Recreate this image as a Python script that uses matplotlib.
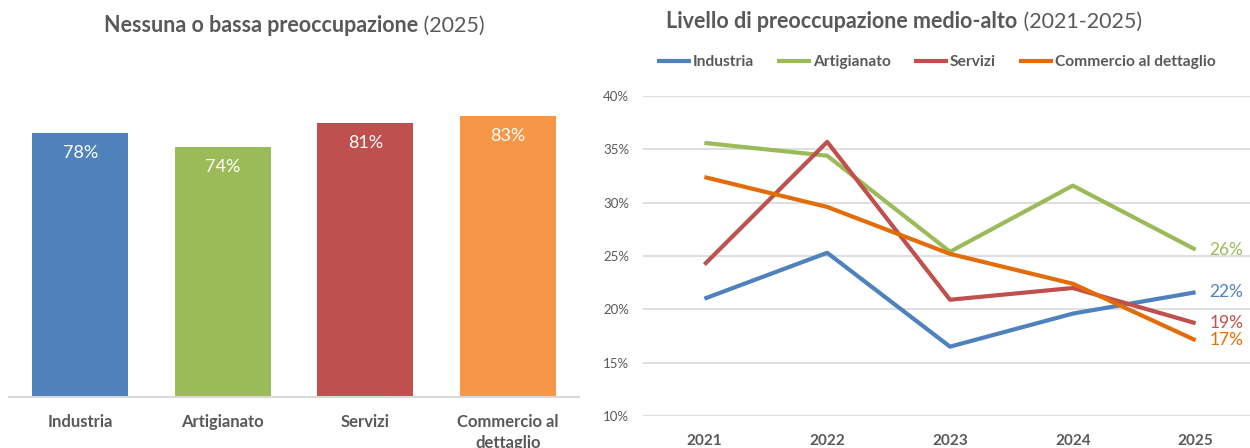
import numpy as np
import matplotlib.pyplot as plt
from matplotlib.ticker import FuncFormatter

plt.rcParams['font.family'] = ['Lato', 'DejaVu Sans']

# left chart data
cats = ['Industria', 'Artigianato', 'Servizi', 'Commercio al\ndettaglio']
low_2025 = [78, 74, 81, 83]
bar_colors = ['#4f81bd', '#9bbb59', '#c0504d', '#f79646']

# right chart data
years = ['2021', '2022', '2023', '2024', '2025']
industria = [21.0, 25.3, 16.5, 19.6, 21.6]
artigianato = [35.6, 34.4, 25.4, 31.6, 25.6]
servizi = [24.2, 35.7, 20.9, 22.0, 18.7]
commercio = [32.4, 29.6, 25.2, 22.4, 17.1]
series = [('Industria', industria, '#4f81bd'),
          ('Artigianato', artigianato, '#9bbb59'),
          ('Servizi', servizi, '#c0504d'),
          ('Commercio al dettaglio', commercio, '#e36c09')]
end_labels = ['22%', '26%', '19%', '17%']

txt = '#595959'
grid = '#d9d9d9'

fig = plt.figure(figsize=(12.5, 4.48), dpi=100)


def mixed_title(fig, xc, y, bold, normal, size):
    r = fig.canvas.get_renderer()
    t1 = fig.text(0, y, bold, fontsize=size, fontweight='bold', color=txt, va='center')
    t2 = fig.text(0, y, normal, fontsize=size, color=txt, va='center')
    w1 = t1.get_window_extent(r).width / fig.bbox.width
    w2 = t2.get_window_extent(r).width / fig.bbox.width
    x0 = xc - (w1 + w2) / 2
    t1.set_x(x0)
    t2.set_x(x0 + w1)


# ---- left: bars
ax1 = fig.add_axes([9 / 1250, 51 / 448, 570 / 1250, 338 / 448])
x = np.arange(len(cats))
bars = ax1.bar(x, low_2025, width=0.674, color=bar_colors)
ax1.set_xlim(-0.5, 3.5)
ax1.set_ylim(0, 100)
ax1.set_yticks([])
for s in ['top', 'right', 'left']:
    ax1.spines[s].set_visible(False)
ax1.spines['bottom'].set_color(grid)
ax1.spines['bottom'].set_linewidth(1.5)
ax1.set_xticks(x)
ax1.set_xticklabels(cats, fontsize=12, fontweight='bold', color=txt, linespacing=1.4)
ax1.tick_params(axis='x', length=0, pad=12)
for b, v in zip(bars, low_2025):
    ax1.annotate(f'{v}%', (b.get_x() + b.get_width() / 2, v), xytext=(0, -12),
                 textcoords='offset pixels', ha='center', va='top',
                 color='white', fontsize=13)

mixed_title(fig, 294 / 1250, 1 - 26 / 448, 'Nessuna o bassa preoccupazione', ' (2025)', 15.5)

# ---- right: lines
ax2 = fig.add_axes([643 / 1250, 32 / 448, 614 / 1250, 320 / 448])
xi = np.arange(len(years))
for name, vals, c in series:
    ax2.plot(xi, vals, color=c, lw=3, label=name, solid_capstyle='butt')
ax2.set_xlim(-0.5, 4.5)
ax2.set_ylim(10, 40)
ax2.set_yticks(np.arange(10, 41, 5))
ax2.yaxis.set_major_formatter(FuncFormatter(lambda v, p: f'{v:.0f}%'))
ax2.grid(axis='y', color=grid, lw=1.2)
ax2.set_axisbelow(True)
for s in ax2.spines.values():
    s.set_visible(False)
ax2.tick_params(axis='y', length=0, labelsize=9.5, labelcolor=txt, pad=10)
ax2.set_xticks(xi)
ax2.set_xticklabels(years, fontsize=11, fontweight='bold', color=txt)
ax2.tick_params(axis='x', length=0, pad=13)
for (name, vals, c), lab in zip(series, end_labels):
    ax2.annotate(lab, (xi[-1], vals[-1]), xytext=(14, 0), textcoords='offset pixels',
                 ha='left', va='center', color=c, fontsize=12.5)

leg = ax2.legend(loc='center', bbox_to_anchor=(936 / 1250, 1 - 62 / 448),
                 bbox_transform=fig.transFigure, ncol=4, frameon=False,
                 handlelength=2.2, handletextpad=0.1, columnspacing=1.5,
                 prop={'size': 11.2, 'weight': 'bold'})
for t in leg.get_texts():
    t.set_color(txt)

mixed_title(fig, 904 / 1250, 1 - 22 / 448, 'Livello di preoccupazione medio-alto', ' (2021-2025)', 15.5)

fig.savefig('out.png', dpi=100)
